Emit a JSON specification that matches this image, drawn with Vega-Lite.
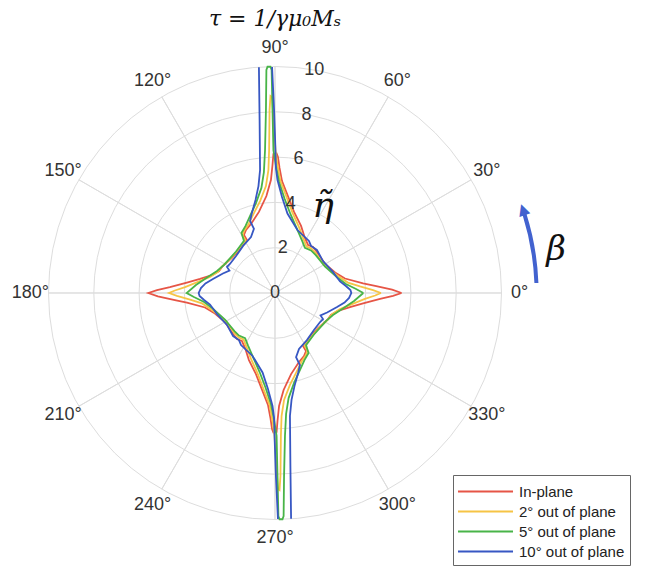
{
"$schema":"https://vega.github.io/schema/vega-lite/v6.json",
"width":453,"height":453,
"autosize":{"type":"none"},
"padding":{"left":48.5,"top":66.5,"right":143.5,"bottom":54.5},
"background":"white",
"title":{"text":"τ = 1/γμ₀Mₛ","font":"DejaVu Serif","fontStyle":"italic","fontWeight":"normal","fontSize":22,"color":"#111","anchor":"middle","frame":"group","offset":8},
"config":{"view":{"stroke":null},"font":"Liberation Sans"},
"datasets":{
"circles":[{"r":2},{"r":4},{"r":6},{"r":8},{"r":10}],
"spokes":[{"a":0},{"a":30},{"a":60},{"a":90},{"a":120},{"a":150},{"a":180},{"a":210},{"a":240},{"a":270},{"a":300},{"a":330}],
"angles":[{"a":0,"lab":"0°"},{"a":30,"lab":"30°"},{"a":60,"lab":"60°"},{"a":90,"lab":"90°"},{"a":120,"lab":"120°"},{"a":150,"lab":"150°"},{"a":180,"lab":"180°"},{"a":210,"lab":"210°"},{"a":240,"lab":"240°"},{"a":270,"lab":"270°"},{"a":300,"lab":"300°"},{"a":330,"lab":"330°"}],
"rlabels":[{"r":0,"lab":"0"},{"r":2,"lab":"2"},{"r":4,"lab":"4"},{"r":6,"lab":"6"},{"r":8,"lab":"8"},{"r":10,"lab":"10"}],
"curves":[
{"s":"In-plane","g":"a","i":1,"x":5.59,"y":0},{"s":"In-plane","g":"a","i":2,"x":5.17,"y":0.15},{"s":"In-plane","g":"a","i":3,"x":4.42,"y":0.31},{"s":"In-plane","g":"a","i":4,"x":3.89,"y":0.42},{"s":"In-plane","g":"a","i":5,"x":3.09,"y":0.64},{"s":"In-plane","g":"a","i":6,"x":2.69,"y":0.88},{"s":"In-plane","g":"a","i":7,"x":2.21,"y":1.28},{"s":"In-plane","g":"a","i":8,"x":1.85,"y":1.81},{"s":"In-plane","g":"a","i":9,"x":1.68,"y":2.03},{"s":"In-plane","g":"a","i":10,"x":1.46,"y":2.12},{"s":"In-plane","g":"a","i":11,"x":1.32,"y":2.43},{"s":"In-plane","g":"a","i":12,"x":1.15,"y":2.96},{"s":"In-plane","g":"a","i":13,"x":0.84,"y":3.58},{"s":"In-plane","g":"a","i":14,"x":0.57,"y":4.28},{"s":"In-plane","g":"a","i":15,"x":0.31,"y":4.94},{"s":"In-plane","g":"a","i":16,"x":0.2,"y":5.52},{"s":"In-plane","g":"a","i":17,"x":0.13,"y":6.0},{"s":"In-plane","g":"a","i":18,"x":0.07,"y":6.16},{"s":"In-plane","g":"a","i":19,"x":-0.07,"y":6.14},{"s":"In-plane","g":"a","i":20,"x":-0.11,"y":5.65},{"s":"In-plane","g":"a","i":21,"x":-0.18,"y":4.99},{"s":"In-plane","g":"a","i":22,"x":-0.38,"y":4.28},{"s":"In-plane","g":"a","i":23,"x":-0.71,"y":3.58},{"s":"In-plane","g":"a","i":24,"x":-1.06,"y":3.05},{"s":"In-plane","g":"a","i":25,"x":-1.28,"y":2.78},{"s":"In-plane","g":"a","i":26,"x":-1.37,"y":2.56},{"s":"In-plane","g":"a","i":27,"x":-1.24,"y":2.34},{"s":"In-plane","g":"a","i":28,"x":-1.55,"y":1.94},{"s":"In-plane","g":"a","i":29,"x":-1.9,"y":1.55},{"s":"In-plane","g":"a","i":30,"x":-2.34,"y":1.15},{"s":"In-plane","g":"a","i":31,"x":-2.47,"y":0.97},{"s":"In-plane","g":"a","i":32,"x":-2.78,"y":0.79},{"s":"In-plane","g":"a","i":33,"x":-3.31,"y":0.62},{"s":"In-plane","g":"a","i":34,"x":-3.89,"y":0.46},{"s":"In-plane","g":"a","i":35,"x":-4.64,"y":0.26},{"s":"In-plane","g":"a","i":36,"x":-5.21,"y":0.13},{"s":"In-plane","g":"a","i":37,"x":-5.59,"y":0},{"s":"In-plane","g":"a","i":38,"x":-5.17,"y":-0.15},{"s":"In-plane","g":"a","i":39,"x":-4.42,"y":-0.31},{"s":"In-plane","g":"a","i":40,"x":-3.89,"y":-0.42},{"s":"In-plane","g":"a","i":41,"x":-3.09,"y":-0.64},{"s":"In-plane","g":"a","i":42,"x":-2.69,"y":-0.88},{"s":"In-plane","g":"a","i":43,"x":-2.21,"y":-1.28},{"s":"In-plane","g":"a","i":44,"x":-1.85,"y":-1.81},{"s":"In-plane","g":"a","i":45,"x":-1.68,"y":-2.03},{"s":"In-plane","g":"a","i":46,"x":-1.46,"y":-2.12},{"s":"In-plane","g":"a","i":47,"x":-1.32,"y":-2.43},{"s":"In-plane","g":"a","i":48,"x":-1.15,"y":-2.96},{"s":"In-plane","g":"a","i":49,"x":-0.84,"y":-3.58},{"s":"In-plane","g":"a","i":50,"x":-0.57,"y":-4.28},{"s":"In-plane","g":"a","i":51,"x":-0.31,"y":-4.94},{"s":"In-plane","g":"a","i":52,"x":-0.2,"y":-5.52},{"s":"In-plane","g":"a","i":53,"x":-0.13,"y":-6.0},{"s":"In-plane","g":"a","i":54,"x":-0.07,"y":-6.16},{"s":"In-plane","g":"a","i":55,"x":0.07,"y":-6.14},{"s":"In-plane","g":"a","i":56,"x":0.11,"y":-5.65},{"s":"In-plane","g":"a","i":57,"x":0.18,"y":-4.99},{"s":"In-plane","g":"a","i":58,"x":0.38,"y":-4.28},{"s":"In-plane","g":"a","i":59,"x":0.71,"y":-3.58},{"s":"In-plane","g":"a","i":60,"x":1.06,"y":-3.05},{"s":"In-plane","g":"a","i":61,"x":1.28,"y":-2.78},{"s":"In-plane","g":"a","i":62,"x":1.37,"y":-2.56},{"s":"In-plane","g":"a","i":63,"x":1.24,"y":-2.34},{"s":"In-plane","g":"a","i":64,"x":1.55,"y":-1.94},{"s":"In-plane","g":"a","i":65,"x":1.9,"y":-1.55},{"s":"In-plane","g":"a","i":66,"x":2.34,"y":-1.15},{"s":"In-plane","g":"a","i":67,"x":2.47,"y":-0.97},{"s":"In-plane","g":"a","i":68,"x":2.78,"y":-0.79},{"s":"In-plane","g":"a","i":69,"x":3.31,"y":-0.62},{"s":"In-plane","g":"a","i":70,"x":3.89,"y":-0.46},{"s":"In-plane","g":"a","i":71,"x":4.64,"y":-0.26},{"s":"In-plane","g":"a","i":72,"x":5.21,"y":-0.13},{"s":"In-plane","g":"a","i":73,"x":5.59,"y":0},
{"s":"2° out of plane","g":"a","i":1,"x":4.68,"y":0},{"s":"2° out of plane","g":"a","i":2,"x":4.33,"y":0.13},{"s":"2° out of plane","g":"a","i":3,"x":3.75,"y":0.29},{"s":"2° out of plane","g":"a","i":4,"x":3.22,"y":0.46},{"s":"2° out of plane","g":"a","i":5,"x":2.78,"y":0.75},{"s":"2° out of plane","g":"a","i":6,"x":2.16,"y":1.24},{"s":"2° out of plane","g":"a","i":7,"x":1.81,"y":1.74},{"s":"2° out of plane","g":"a","i":8,"x":1.61,"y":1.96},{"s":"2° out of plane","g":"a","i":9,"x":1.39,"y":2.05},{"s":"2° out of plane","g":"a","i":10,"x":1.26,"y":2.38},{"s":"2° out of plane","g":"a","i":11,"x":1.06,"y":2.91},{"s":"2° out of plane","g":"a","i":12,"x":0.77,"y":3.55},{"s":"2° out of plane","g":"a","i":13,"x":0.51,"y":4.24},{"s":"2° out of plane","g":"a","i":14,"x":0.24,"y":4.94},{"s":"2° out of plane","g":"a","i":15,"x":0.11,"y":5.65},{"s":"2° out of plane","g":"a","i":16,"x":0.02,"y":6.31},{"s":"2° out of plane","g":"a","i":17,"x":-0.07,"y":7.86},{"s":"2° out of plane","g":"a","i":18,"x":-0.13,"y":8.65},{"s":"2° out of plane","g":"a","i":19,"x":-0.2,"y":8.7},{"s":"2° out of plane","g":"a","i":20,"x":-0.24,"y":8.08},{"s":"2° out of plane","g":"a","i":21,"x":-0.26,"y":6.31},{"s":"2° out of plane","g":"a","i":22,"x":-0.29,"y":5.43},{"s":"2° out of plane","g":"a","i":23,"x":-0.4,"y":4.72},{"s":"2° out of plane","g":"a","i":24,"x":-0.66,"y":4.06},{"s":"2° out of plane","g":"a","i":25,"x":-0.93,"y":3.53},{"s":"2° out of plane","g":"a","i":26,"x":-1.19,"y":3.0},{"s":"2° out of plane","g":"a","i":27,"x":-1.37,"y":2.74},{"s":"2° out of plane","g":"a","i":28,"x":-1.43,"y":2.54},{"s":"2° out of plane","g":"a","i":29,"x":-1.3,"y":2.32},{"s":"2° out of plane","g":"a","i":30,"x":-1.63,"y":1.9},{"s":"2° out of plane","g":"a","i":31,"x":-1.99,"y":1.5},{"s":"2° out of plane","g":"a","i":32,"x":-2.38,"y":1.13},{"s":"2° out of plane","g":"a","i":33,"x":-2.52,"y":0.93},{"s":"2° out of plane","g":"a","i":34,"x":-2.87,"y":0.71},{"s":"2° out of plane","g":"a","i":35,"x":-3.4,"y":0.49},{"s":"2° out of plane","g":"a","i":36,"x":-3.97,"y":0.26},{"s":"2° out of plane","g":"a","i":37,"x":-4.42,"y":0.11},{"s":"2° out of plane","g":"a","i":38,"x":-4.68,"y":0},{"s":"2° out of plane","g":"a","i":39,"x":-4.33,"y":-0.13},{"s":"2° out of plane","g":"a","i":40,"x":-3.75,"y":-0.29},{"s":"2° out of plane","g":"a","i":41,"x":-3.22,"y":-0.46},{"s":"2° out of plane","g":"a","i":42,"x":-2.78,"y":-0.75},{"s":"2° out of plane","g":"a","i":43,"x":-2.16,"y":-1.24},{"s":"2° out of plane","g":"a","i":44,"x":-1.81,"y":-1.74},{"s":"2° out of plane","g":"a","i":45,"x":-1.61,"y":-1.96},{"s":"2° out of plane","g":"a","i":46,"x":-1.39,"y":-2.05},{"s":"2° out of plane","g":"a","i":47,"x":-1.26,"y":-2.38},{"s":"2° out of plane","g":"a","i":48,"x":-1.06,"y":-2.91},{"s":"2° out of plane","g":"a","i":49,"x":-0.77,"y":-3.55},{"s":"2° out of plane","g":"a","i":50,"x":-0.51,"y":-4.24},{"s":"2° out of plane","g":"a","i":51,"x":-0.24,"y":-4.94},{"s":"2° out of plane","g":"a","i":52,"x":-0.11,"y":-5.65},{"s":"2° out of plane","g":"a","i":53,"x":-0.02,"y":-6.31},{"s":"2° out of plane","g":"a","i":54,"x":0.07,"y":-7.86},{"s":"2° out of plane","g":"a","i":55,"x":0.13,"y":-8.65},{"s":"2° out of plane","g":"a","i":56,"x":0.2,"y":-8.7},{"s":"2° out of plane","g":"a","i":57,"x":0.24,"y":-8.08},{"s":"2° out of plane","g":"a","i":58,"x":0.26,"y":-6.31},{"s":"2° out of plane","g":"a","i":59,"x":0.29,"y":-5.43},{"s":"2° out of plane","g":"a","i":60,"x":0.4,"y":-4.72},{"s":"2° out of plane","g":"a","i":61,"x":0.66,"y":-4.06},{"s":"2° out of plane","g":"a","i":62,"x":0.93,"y":-3.53},{"s":"2° out of plane","g":"a","i":63,"x":1.19,"y":-3.0},{"s":"2° out of plane","g":"a","i":64,"x":1.37,"y":-2.74},{"s":"2° out of plane","g":"a","i":65,"x":1.43,"y":-2.54},{"s":"2° out of plane","g":"a","i":66,"x":1.3,"y":-2.32},{"s":"2° out of plane","g":"a","i":67,"x":1.63,"y":-1.9},{"s":"2° out of plane","g":"a","i":68,"x":1.99,"y":-1.5},{"s":"2° out of plane","g":"a","i":69,"x":2.38,"y":-1.13},{"s":"2° out of plane","g":"a","i":70,"x":2.52,"y":-0.93},{"s":"2° out of plane","g":"a","i":71,"x":2.87,"y":-0.71},{"s":"2° out of plane","g":"a","i":72,"x":3.4,"y":-0.49},{"s":"2° out of plane","g":"a","i":73,"x":3.97,"y":-0.26},{"s":"2° out of plane","g":"a","i":74,"x":4.42,"y":-0.11},{"s":"2° out of plane","g":"a","i":75,"x":4.68,"y":0},
{"s":"5° out of plane","g":"a","i":1,"x":3.9,"y":0},{"s":"5° out of plane","g":"a","i":2,"x":3.58,"y":0.18},{"s":"5° out of plane","g":"a","i":3,"x":3.13,"y":0.4},{"s":"5° out of plane","g":"a","i":4,"x":2.78,"y":0.66},{"s":"5° out of plane","g":"a","i":5,"x":2.21,"y":1.17},{"s":"5° out of plane","g":"a","i":6,"x":1.79,"y":1.68},{"s":"5° out of plane","g":"a","i":7,"x":1.59,"y":1.88},{"s":"5° out of plane","g":"a","i":8,"x":1.32,"y":1.99},{"s":"5° out of plane","g":"a","i":9,"x":1.19,"y":2.32},{"s":"5° out of plane","g":"a","i":10,"x":0.97,"y":2.83},{"s":"5° out of plane","g":"a","i":11,"x":0.68,"y":3.49},{"s":"5° out of plane","g":"a","i":12,"x":0.42,"y":4.17},{"s":"5° out of plane","g":"a","i":13,"x":0.18,"y":4.9},{"s":"5° out of plane","g":"a","i":14,"x":0.04,"y":5.61},{"s":"5° out of plane","g":"a","i":15,"x":-0.07,"y":6.31},{"s":"5° out of plane","g":"a","i":16,"x":-0.11,"y":8.08},{"s":"5° out of plane","g":"a","i":17,"x":-0.15,"y":9.85},{"s":"5° out of plane","g":"a","i":18,"x":-0.2,"y":9.99},{"s":"5° out of plane","g":"a","i":19,"x":-0.33,"y":9.99},{"s":"5° out of plane","g":"a","i":20,"x":-0.38,"y":9.85},{"s":"5° out of plane","g":"a","i":21,"x":-0.4,"y":8.08},{"s":"5° out of plane","g":"a","i":22,"x":-0.44,"y":6.31},{"s":"5° out of plane","g":"a","i":23,"x":-0.49,"y":5.34},{"s":"5° out of plane","g":"a","i":24,"x":-0.6,"y":4.64},{"s":"5° out of plane","g":"a","i":25,"x":-0.84,"y":3.97},{"s":"5° out of plane","g":"a","i":26,"x":-1.1,"y":3.4},{"s":"5° out of plane","g":"a","i":27,"x":-1.3,"y":2.96},{"s":"5° out of plane","g":"a","i":28,"x":-1.48,"y":2.65},{"s":"5° out of plane","g":"a","i":29,"x":-1.37,"y":2.3},{"s":"5° out of plane","g":"a","i":30,"x":-1.72,"y":1.83},{"s":"5° out of plane","g":"a","i":31,"x":-2.1,"y":1.41},{"s":"5° out of plane","g":"a","i":32,"x":-2.25,"y":1.24},{"s":"5° out of plane","g":"a","i":33,"x":-2.56,"y":0.97},{"s":"5° out of plane","g":"a","i":34,"x":-3.0,"y":0.68},{"s":"5° out of plane","g":"a","i":35,"x":-3.49,"y":0.35},{"s":"5° out of plane","g":"a","i":36,"x":-3.9,"y":0},{"s":"5° out of plane","g":"a","i":37,"x":-3.58,"y":-0.18},{"s":"5° out of plane","g":"a","i":38,"x":-3.13,"y":-0.4},{"s":"5° out of plane","g":"a","i":39,"x":-2.78,"y":-0.66},{"s":"5° out of plane","g":"a","i":40,"x":-2.21,"y":-1.17},{"s":"5° out of plane","g":"a","i":41,"x":-1.79,"y":-1.68},{"s":"5° out of plane","g":"a","i":42,"x":-1.59,"y":-1.88},{"s":"5° out of plane","g":"a","i":43,"x":-1.32,"y":-1.99},{"s":"5° out of plane","g":"a","i":44,"x":-1.19,"y":-2.32},{"s":"5° out of plane","g":"a","i":45,"x":-0.97,"y":-2.83},{"s":"5° out of plane","g":"a","i":46,"x":-0.68,"y":-3.49},{"s":"5° out of plane","g":"a","i":47,"x":-0.42,"y":-4.17},{"s":"5° out of plane","g":"a","i":48,"x":-0.18,"y":-4.9},{"s":"5° out of plane","g":"a","i":49,"x":-0.04,"y":-5.61},{"s":"5° out of plane","g":"a","i":50,"x":0.07,"y":-6.31},{"s":"5° out of plane","g":"a","i":51,"x":0.11,"y":-8.08},{"s":"5° out of plane","g":"a","i":52,"x":0.15,"y":-9.85},{"s":"5° out of plane","g":"a","i":53,"x":0.2,"y":-9.99},{"s":"5° out of plane","g":"a","i":54,"x":0.33,"y":-9.99},{"s":"5° out of plane","g":"a","i":55,"x":0.38,"y":-9.85},{"s":"5° out of plane","g":"a","i":56,"x":0.4,"y":-8.08},{"s":"5° out of plane","g":"a","i":57,"x":0.44,"y":-6.31},{"s":"5° out of plane","g":"a","i":58,"x":0.49,"y":-5.34},{"s":"5° out of plane","g":"a","i":59,"x":0.6,"y":-4.64},{"s":"5° out of plane","g":"a","i":60,"x":0.84,"y":-3.97},{"s":"5° out of plane","g":"a","i":61,"x":1.1,"y":-3.4},{"s":"5° out of plane","g":"a","i":62,"x":1.3,"y":-2.96},{"s":"5° out of plane","g":"a","i":63,"x":1.48,"y":-2.65},{"s":"5° out of plane","g":"a","i":64,"x":1.37,"y":-2.3},{"s":"5° out of plane","g":"a","i":65,"x":1.72,"y":-1.83},{"s":"5° out of plane","g":"a","i":66,"x":2.1,"y":-1.41},{"s":"5° out of plane","g":"a","i":67,"x":2.25,"y":-1.24},{"s":"5° out of plane","g":"a","i":68,"x":2.56,"y":-0.97},{"s":"5° out of plane","g":"a","i":69,"x":3.0,"y":-0.68},{"s":"5° out of plane","g":"a","i":70,"x":3.49,"y":-0.35},{"s":"5° out of plane","g":"a","i":71,"x":3.9,"y":0},
{"s":"10° out of plane","g":"A","i":1,"x":0.71,"y":-9.97},{"s":"10° out of plane","g":"A","i":2,"x":0.68,"y":-7.64},{"s":"10° out of plane","g":"A","i":3,"x":0.66,"y":-5.43},{"s":"10° out of plane","g":"A","i":4,"x":0.73,"y":-4.72},{"s":"10° out of plane","g":"A","i":5,"x":0.86,"y":-4.11},{"s":"10° out of plane","g":"A","i":6,"x":1.02,"y":-3.53},{"s":"10° out of plane","g":"A","i":7,"x":1.1,"y":-3.18},{"s":"10° out of plane","g":"A","i":8,"x":0.93,"y":-2.83},{"s":"10° out of plane","g":"A","i":9,"x":1.06,"y":-2.47},{"s":"10° out of plane","g":"A","i":10,"x":1.41,"y":-2.08},{"s":"10° out of plane","g":"A","i":11,"x":1.72,"y":-1.63},{"s":"10° out of plane","g":"A","i":12,"x":1.99,"y":-1.28},{"s":"10° out of plane","g":"A","i":13,"x":2.12,"y":-1.15},{"s":"10° out of plane","g":"A","i":14,"x":2.01,"y":-0.99},{"s":"10° out of plane","g":"A","i":15,"x":2.3,"y":-0.86},{"s":"10° out of plane","g":"A","i":16,"x":2.74,"y":-0.62},{"s":"10° out of plane","g":"A","i":17,"x":3.07,"y":-0.42},{"s":"10° out of plane","g":"A","i":18,"x":3.27,"y":-0.22},{"s":"10° out of plane","g":"A","i":19,"x":3.37,"y":0},{"s":"10° out of plane","g":"A","i":20,"x":3.33,"y":0.13},{"s":"10° out of plane","g":"A","i":21,"x":3.13,"y":0.31},{"s":"10° out of plane","g":"A","i":22,"x":2.87,"y":0.51},{"s":"10° out of plane","g":"A","i":23,"x":2.69,"y":0.75},{"s":"10° out of plane","g":"A","i":24,"x":2.56,"y":0.93},{"s":"10° out of plane","g":"A","i":25,"x":2.12,"y":1.41},{"s":"10° out of plane","g":"A","i":26,"x":1.85,"y":1.9},{"s":"10° out of plane","g":"A","i":27,"x":1.59,"y":2.08},{"s":"10° out of plane","g":"A","i":28,"x":1.5,"y":2.3},{"s":"10° out of plane","g":"A","i":29,"x":0.99,"y":2.78},{"s":"10° out of plane","g":"A","i":30,"x":0.55,"y":3.51},{"s":"10° out of plane","g":"A","i":31,"x":0.31,"y":4.24},{"s":"10° out of plane","g":"A","i":32,"x":0.11,"y":4.99},{"s":"10° out of plane","g":"A","i":33,"x":0.04,"y":5.52},{"s":"10° out of plane","g":"A","i":34,"x":0.02,"y":6.31},{"s":"10° out of plane","g":"A","i":35,"x":-0.04,"y":8.08},{"s":"10° out of plane","g":"A","i":36,"x":-0.13,"y":9.98},
{"s":"10° out of plane","g":"B","i":1,"x":-0.71,"y":9.97},{"s":"10° out of plane","g":"B","i":2,"x":-0.68,"y":7.64},{"s":"10° out of plane","g":"B","i":3,"x":-0.66,"y":5.43},{"s":"10° out of plane","g":"B","i":4,"x":-0.73,"y":4.72},{"s":"10° out of plane","g":"B","i":5,"x":-0.86,"y":4.11},{"s":"10° out of plane","g":"B","i":6,"x":-1.02,"y":3.53},{"s":"10° out of plane","g":"B","i":7,"x":-1.1,"y":3.18},{"s":"10° out of plane","g":"B","i":8,"x":-0.93,"y":2.83},{"s":"10° out of plane","g":"B","i":9,"x":-1.06,"y":2.47},{"s":"10° out of plane","g":"B","i":10,"x":-1.41,"y":2.08},{"s":"10° out of plane","g":"B","i":11,"x":-1.72,"y":1.63},{"s":"10° out of plane","g":"B","i":12,"x":-1.99,"y":1.28},{"s":"10° out of plane","g":"B","i":13,"x":-2.12,"y":1.15},{"s":"10° out of plane","g":"B","i":14,"x":-2.01,"y":0.99},{"s":"10° out of plane","g":"B","i":15,"x":-2.3,"y":0.86},{"s":"10° out of plane","g":"B","i":16,"x":-2.74,"y":0.62},{"s":"10° out of plane","g":"B","i":17,"x":-3.07,"y":0.42},{"s":"10° out of plane","g":"B","i":18,"x":-3.27,"y":0.22},{"s":"10° out of plane","g":"B","i":19,"x":-3.37,"y":0},{"s":"10° out of plane","g":"B","i":20,"x":-3.33,"y":-0.13},{"s":"10° out of plane","g":"B","i":21,"x":-3.13,"y":-0.31},{"s":"10° out of plane","g":"B","i":22,"x":-2.87,"y":-0.51},{"s":"10° out of plane","g":"B","i":23,"x":-2.69,"y":-0.75},{"s":"10° out of plane","g":"B","i":24,"x":-2.56,"y":-0.93},{"s":"10° out of plane","g":"B","i":25,"x":-2.12,"y":-1.41},{"s":"10° out of plane","g":"B","i":26,"x":-1.85,"y":-1.9},{"s":"10° out of plane","g":"B","i":27,"x":-1.59,"y":-2.08},{"s":"10° out of plane","g":"B","i":28,"x":-1.5,"y":-2.3},{"s":"10° out of plane","g":"B","i":29,"x":-0.99,"y":-2.78},{"s":"10° out of plane","g":"B","i":30,"x":-0.55,"y":-3.51},{"s":"10° out of plane","g":"B","i":31,"x":-0.31,"y":-4.24},{"s":"10° out of plane","g":"B","i":32,"x":-0.11,"y":-4.99},{"s":"10° out of plane","g":"B","i":33,"x":-0.04,"y":-5.52},{"s":"10° out of plane","g":"B","i":34,"x":-0.02,"y":-6.31},{"s":"10° out of plane","g":"B","i":35,"x":0.04,"y":-8.08},{"s":"10° out of plane","g":"B","i":36,"x":0.13,"y":-9.98}
]},
"layer":[
{"data":{"name":"circles"},"mark":{"type":"arc","theta":0,"theta2":6.2832,"stroke":"#dddddd","strokeWidth":1,"fill":"white","fillOpacity":0},
 "encoding":{"radius":{"field":"r","type":"quantitative","stack":null,"scale":{"type":"linear","domain":[0,10],"range":[0,226.5],"zero":true,"nice":false}}}},
{"data":{"name":"spokes"},"mark":{"type":"arc","stroke":"#dddddd","strokeWidth":1,"fill":"white","fillOpacity":0},
 "encoding":{"theta":{"field":"a","type":"quantitative","stack":null,"scale":{"type":"linear","domain":[0,360],"range":[1.5708,-4.7124],"zero":false,"nice":false}},"theta2":{"field":"a"},
 "radius":{"datum":10,"type":"quantitative","scale":{"type":"linear","domain":[0,10],"range":[0,226.5],"zero":true,"nice":false}}}},
{"data":{"name":"curves"},"mark":{"type":"line","strokeWidth":1.8},
 "encoding":{"x":{"field":"x","type":"quantitative","scale":{"domain":[-10,10],"nice":false,"zero":false},"axis":null},
 "y":{"field":"y","type":"quantitative","scale":{"domain":[-10,10],"nice":false,"zero":false},"axis":null},
 "color":{"field":"s","type":"nominal","scale":{"domain":["In-plane","2° out of plane","5° out of plane","10° out of plane"],"range":["#E65546","#F6C445","#48B448","#3757C3"]},
  "legend":{"orient":"none","legendX":404.5,"legendY":408.5,"title":null,"symbolType":"M-2.62,0H2.62","symbolSize":441,"symbolStrokeWidth":1.8,"symbolOffset":16,"labelOffset":22,"labelAlign":"left","labelFontSize":15,"labelFont":"Liberation Sans","labelColor":"#222","strokeColor":"#666","fillColor":"white","padding":5,"rowPadding":0}},
 "detail":{"field":"g"},
 "order":{"field":"i","type":"quantitative"}}},
{"data":{"name":"angles"},"mark":{"type":"text","fontSize":18,"font":"Liberation Sans","color":"#333","align":"center","baseline":"middle"},
 "encoding":{"theta":{"field":"a","type":"quantitative","stack":null,"scale":{"type":"linear","domain":[0,360],"range":[1.5708,-4.7124],"zero":false,"nice":false}},
 "radius":{"datum":10.8,"type":"quantitative","scale":{"type":"linear","domain":[0,10],"range":[0,226.5],"zero":true,"nice":false}},"text":{"field":"lab"}}},
{"data":{"name":"rlabels"},"mark":{"type":"text","fontSize":18,"font":"Liberation Sans","color":"#333","align":"center","baseline":"middle"},
 "encoding":{"theta":{"datum":80,"type":"quantitative","scale":{"type":"linear","domain":[0,360],"range":[1.5708,-4.7124],"zero":false,"nice":false}},
 "radius":{"field":"r","type":"quantitative","stack":null,"scale":{"type":"linear","domain":[0,10],"range":[0,226.5],"zero":true,"nice":false}},"text":{"field":"lab"}}},
{"data":{"values":[{}]},"mark":{"type":"text","text":"η̃","font":"DejaVu Serif","fontStyle":"italic","fontSize":36,"color":"#111","align":"center","baseline":"middle"},
 "encoding":{"x":{"datum":2.12,"type":"quantitative"},"y":{"datum":3.85,"type":"quantitative"}}},
{"data":{"values":[{}]},"mark":{"type":"text","text":"β","font":"DejaVu Serif","fontStyle":"italic","fontSize":34,"color":"#111","align":"center","baseline":"middle"},
 "encoding":{"x":{"datum":12.41,"type":"quantitative"},"y":{"datum":1.9,"type":"quantitative"}}},
{"data":{"values":[{}]},"mark":{"type":"arc","stroke":"#4262CF","strokeWidth":4,"fill":"white","fillOpacity":0},
 "encoding":{"theta":{"datum":2.2,"type":"quantitative","scale":{"type":"linear","domain":[0,360],"range":[1.5708,-4.7124],"zero":false,"nice":false}},"theta2":{"datum":17.5},
 "radius":{"datum":11.55,"type":"quantitative","scale":{"type":"linear","domain":[0,10],"range":[0,226.5],"zero":true,"nice":false}},"radius2":{"datum":11.55}}},
{"data":{"values":[{}]},"mark":{"type":"text","text":"▲","font":"DejaVu Sans","fontSize":15,"color":"#4262CF","align":"center","baseline":"middle","angle":341},
 "encoding":{"theta":{"datum":18.8,"type":"quantitative","scale":{"type":"linear","domain":[0,360],"range":[1.5708,-4.7124],"zero":false,"nice":false}},
 "radius":{"datum":11.55,"type":"quantitative","scale":{"type":"linear","domain":[0,10],"range":[0,226.5],"zero":true,"nice":false}}}}
]
}
